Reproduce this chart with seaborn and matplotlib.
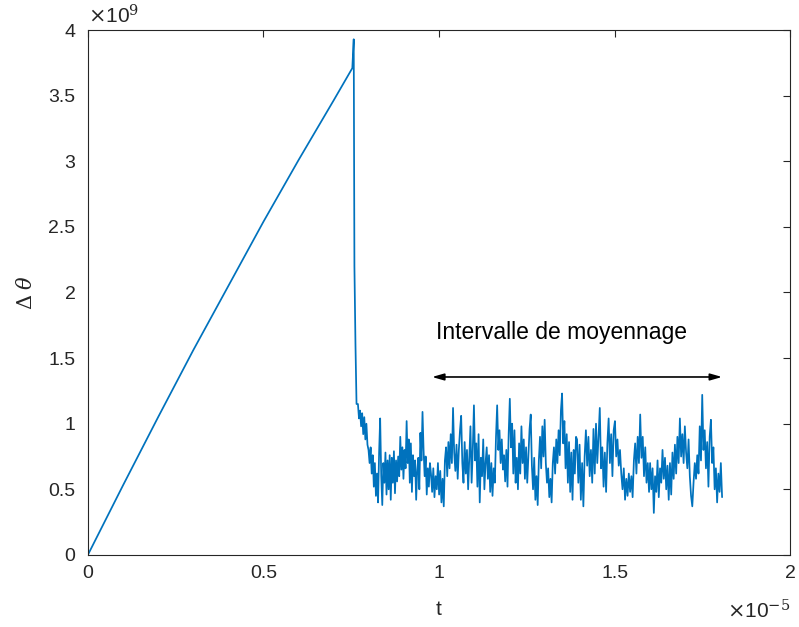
import numpy as np
import pandas as pd
import matplotlib
matplotlib.use("Agg")
import matplotlib.pyplot as plt
import seaborn as sns

# --- data (t in 1e-5 s, delta theta in 1e9)
t_ramp = [0.0, 0.1, 0.2, 0.3, 0.4, 0.5, 0.6, 0.7, 0.753, 0.757, 0.759, 0.762, 0.765]
th_ramp = [0.0, 0.53, 1.05, 1.56, 2.05, 2.54, 3.01, 3.465, 3.71, 3.93, 2.2, 1.6, 1.15]

# noisy part, split in five windows (start t, end t, values)
seg1_t = (0.769, 0.974)
seg1 = [1.15, 1.04, 1.10, 0.98, 1.08, 0.92, 1.05, 0.88, 1.00, 0.84, 0.80, 0.70, 0.82, 0.62,
        0.76, 0.52, 0.70, 0.45, 0.62, 0.40, 0.78, 1.04, 0.60, 0.38, 0.70, 0.55, 0.78, 0.46,
        0.72, 0.50, 0.76, 0.42, 0.74, 0.55, 0.79, 0.47, 0.72, 0.56, 0.75, 0.60, 0.90, 0.65,
        0.82, 0.58, 0.80, 0.66, 1.02, 0.70, 0.88, 0.55, 0.85, 0.48, 0.76, 0.60, 0.72, 0.42,
        0.64, 0.74, 0.50, 0.93, 0.72, 1.09, 0.80, 0.60, 0.75, 0.46, 0.66, 0.52, 0.70]
seg2_t = (0.977, 1.182)
seg2 = [0.62, 0.48, 0.66, 0.44, 0.60, 0.50, 0.70, 0.46, 0.64, 0.40, 0.58, 0.37, 0.72, 0.82,
        0.60, 0.86, 0.66, 0.92, 0.70, 1.12, 0.78, 0.64, 0.84, 0.58, 0.80, 0.95, 1.06, 0.70,
        0.55, 0.86, 0.62, 0.80, 0.50, 0.74, 0.98, 0.55, 0.80, 1.14, 0.72, 0.85, 0.52, 0.92,
        0.40, 0.74, 0.60, 0.88, 0.50, 0.70, 0.82, 0.58, 0.76, 0.48, 0.70, 0.45, 0.66, 0.55,
        0.90, 1.14, 0.80, 0.95, 0.70, 0.88, 0.65]
seg3_t = (1.185, 1.390)
seg3 = [0.76, 0.56, 0.80, 0.52, 0.92, 1.19, 0.82, 1.00, 0.62, 0.95, 0.55, 0.74, 0.50, 0.85,
        0.62, 0.98, 0.70, 0.88, 0.58, 0.82, 0.55, 0.76, 0.96, 1.07, 0.68, 0.50, 0.74, 0.42,
        0.60, 0.38, 0.72, 0.90, 0.66, 0.98, 0.75, 1.03, 0.70, 0.55, 0.66, 0.44, 0.58, 0.40,
        0.70, 0.82, 0.62, 0.88, 0.70, 0.95, 0.76, 1.10, 1.23, 0.85, 1.02, 0.66, 0.92, 0.55,
        0.86, 0.48, 0.78, 0.42, 0.80, 0.62, 0.90]
seg4_t = (1.393, 1.598)
seg4 = [0.88, 0.55, 0.84, 0.42, 0.70, 0.37, 0.75, 0.95, 0.68, 0.90, 0.60, 0.80, 0.55, 0.96,
        0.62, 1.00, 0.70, 0.90, 1.12, 0.66, 0.82, 0.52, 0.78, 0.48, 0.85, 1.04, 0.70, 0.92,
        0.60, 0.95, 1.02, 0.75, 0.88, 0.68, 0.80, 0.62, 0.50, 0.66, 0.42, 0.58, 0.45, 0.62,
        0.48, 0.60, 0.44, 0.72, 0.85, 0.62, 0.90, 0.70, 1.07, 0.74, 0.90, 0.60, 0.82, 0.55,
        0.70, 0.48]
seg5_t = (1.601, 1.806)
seg5 = [0.70, 0.50, 0.66, 0.32, 0.60, 0.48, 0.72, 0.44, 0.66, 0.55, 0.80, 0.58, 0.74, 0.50,
        0.68, 0.42, 0.70, 0.46, 0.78, 0.58, 0.84, 0.62, 0.90, 0.70, 1.04, 0.75, 0.92, 0.70,
        0.98, 0.78, 0.66, 0.88, 0.60, 0.45, 0.37, 0.55, 0.70, 0.58, 0.76, 0.62, 0.98, 0.72,
        1.22, 0.80, 0.95, 0.66, 0.86, 0.52, 0.90, 1.03, 0.70, 0.82, 0.50, 0.66, 0.40, 0.62,
        0.48, 0.70, 0.44]

avg_window = (0.98, 1.806)
avg_level = 1.356
avg_label = "Intervalle de moyennage"

# --- assemble
t_all, th_all = list(t_ramp), list(th_ramp)
for (a, b), vals in [(seg1_t, seg1), (seg2_t, seg2), (seg3_t, seg3), (seg4_t, seg4), (seg5_t, seg5)]:
    t_all += list(np.linspace(a, b, len(vals)))
    th_all += vals
df = pd.DataFrame({"t": t_all, "dtheta": th_all})

sns.set_style("white")
plt.rcParams["font.family"] = ["Liberation Sans", "DejaVu Sans"]
plt.rcParams["mathtext.fontset"] = "dejavuserif"
GREY = "#262626"

fig = plt.figure(figsize=(7.99, 6.27), dpi=100)
ax = fig.add_axes([0.110, 0.115, 0.879, 0.837])
sns.lineplot(data=df, x="t", y="dtheta", sort=False, estimator=None,
             color="#0072BD", lw=1.25, ax=ax)

ax.set_xlim(0, 2); ax.set_ylim(0, 4)
ax.set_xticks([0, 0.5, 1, 1.5, 2]); ax.set_xticklabels(["0", "0.5", "1", "1.5", "2"])
ax.set_yticks(np.arange(0, 4.01, 0.5))
ax.set_yticklabels(["0", "0.5", "1", "1.5", "2", "2.5", "3", "3.5", "4"])
ax.tick_params(direction="in", length=5, width=0.8, colors=GREY, labelsize=14,
               top=True, right=True)
ax.tick_params(axis="y", pad=9)
ax.tick_params(axis="x", pad=7)
for s in ax.spines.values():
    s.set_color(GREY); s.set_linewidth(0.8)

ax.set_xlabel("t", fontsize=15, color=GREY, labelpad=13)
ax.set_ylabel(r"$\mathrm{\Delta}$ $\theta$", fontsize=15, color=GREY, labelpad=9)

# MATLAB-like exponent labels
ax.text(0.0, 1.004, r"$\times$10$^{9}$", transform=ax.transAxes, fontsize=15,
        color=GREY, va="bottom", ha="left")
ax.text(1.0, -0.085, r"$\times$10$^{-5}$", transform=ax.transAxes, fontsize=15,
        color=GREY, va="top", ha="right")

ax.annotate("", xy=(avg_window[1], avg_level), xytext=(avg_window[0], avg_level),
            arrowprops=dict(arrowstyle="<|-|>,head_length=0.7,head_width=0.2",
                            color="black", lw=1.2, shrinkA=0, shrinkB=0))
ax.text(sum(avg_window) / 2 - 0.045, avg_level + 0.34, avg_label, fontsize=16.5,
        ha="center", va="center", color="black")
ax.get_legend() and ax.get_legend().remove()

fig.savefig("out.png", dpi=100)
